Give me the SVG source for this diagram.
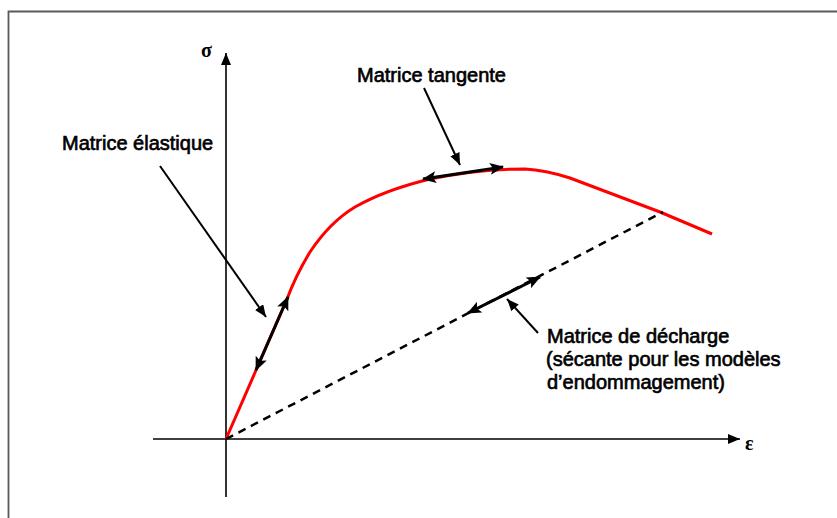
<svg xmlns="http://www.w3.org/2000/svg" width="837" height="518" viewBox="0 0 837 518">
<defs>
<marker id="ah" viewBox="0 0 12 10" refX="12" refY="5" markerWidth="12" markerHeight="10" markerUnits="userSpaceOnUse" orient="auto-start-reverse">
<path d="M0,0 L12,5 L0,10 z" fill="#000"/>
</marker>
<marker id="ah2" viewBox="0 0 14 12" refX="13" refY="6" markerWidth="14" markerHeight="12" markerUnits="userSpaceOnUse" orient="auto-start-reverse">
<path d="M0,0 L14,6 L0,12 L3,6 z" fill="#000"/>
</marker>
<style>
.lbl{font-family:"Liberation Sans",Arial,sans-serif;font-size:20px;fill:#000;stroke:#000;stroke-width:0.65px}
.sym{font-family:"Liberation Serif","Times New Roman",serif;font-size:20px;font-weight:bold;fill:#000}
.axis{stroke:#000;stroke-width:1.6;fill:none}
.ptr{stroke:#000;stroke-width:2;fill:none}
.dbl{stroke:#000;stroke-width:3;fill:none}
</style>
</defs>
<rect width="837" height="518" fill="#fff"/>
<g id="frame"><path d="M8.5,518 V11.5 H837" fill="none" stroke="#5a5a5a" stroke-width="1.8"/></g>
<g id="axes">
<line class="axis" x1="226" y1="497" x2="226" y2="53" marker-end="url(#ah)"/>
<line class="axis" x1="153" y1="439" x2="740" y2="439" marker-end="url(#ah)"/>
<text class="sym" x="201" y="57">σ</text>
<text class="sym" x="745" y="450">ε</text>
</g>
<g id="curve">
<path d="M226,439 L287,299 Q296,275 310,252 Q330,222 355,207 Q385,190 430,179 Q480,169 525,169 Q545,170 570,178 L660,212 L712,234" fill="none" stroke="#f00" stroke-width="3" stroke-linejoin="round"/>
<line x1="226" y1="439" x2="663" y2="212" stroke="#000" stroke-width="2.5" stroke-dasharray="8,6"/>
</g>
<g id="connectors">
<line class="dbl" x1="256" y1="370" x2="288" y2="297" marker-start="url(#ah2)" marker-end="url(#ah2)"/>
<line class="dbl" x1="423" y1="179" x2="503" y2="167" marker-start="url(#ah2)" marker-end="url(#ah2)"/>
<line class="dbl" x1="468" y1="313" x2="540" y2="277" marker-start="url(#ah2)" marker-end="url(#ah2)"/>
<line class="ptr" x1="160" y1="166" x2="266" y2="317" marker-end="url(#ah)"/>
<line class="ptr" x1="424" y1="88" x2="460" y2="165" marker-end="url(#ah)"/>
<line class="ptr" x1="538" y1="333" x2="507" y2="299" marker-end="url(#ah)"/>
</g>
<g id="label-elastique"><text class="lbl" x="62" y="150">Matrice élastique</text></g>
<g id="label-tangente"><text class="lbl" x="357" y="82">Matrice tangente</text></g>
<g id="label-decharge">
<text class="lbl" x="547" y="343">Matrice de décharge</text>
<text class="lbl" x="546" y="366">(sécante pour les modèles</text>
<text class="lbl" x="547" y="389">d’endommagement)</text>
</g>
</svg>
